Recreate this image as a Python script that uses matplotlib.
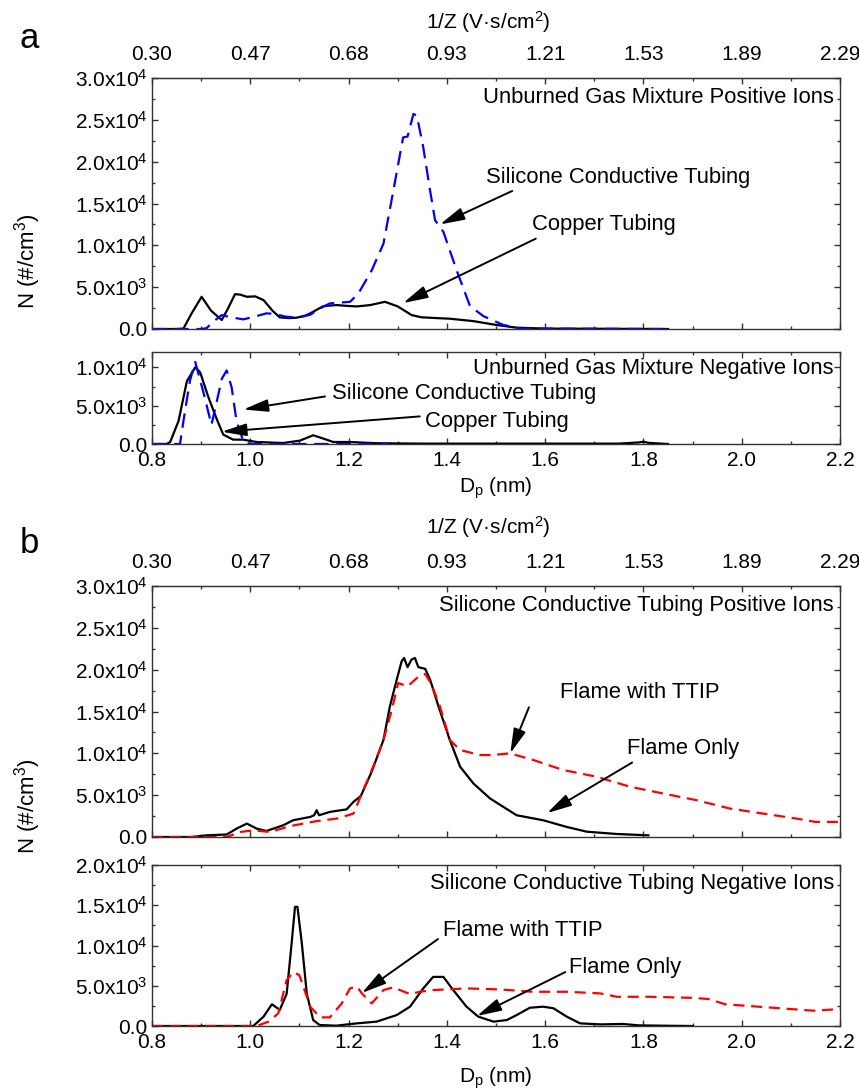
import numpy as np
import matplotlib
matplotlib.use('Agg')
import matplotlib.pyplot as plt
from matplotlib.ticker import MultipleLocator, FuncFormatter

plt.rcParams['font.family'] = ['Liberation Sans', 'DejaVu Sans']
plt.rcParams['mathtext.fontset'] = 'custom'
plt.rcParams['mathtext.rm'] = 'Liberation Sans'
plt.rcParams['mathtext.it'] = 'Liberation Sans:italic'
plt.rcParams['mathtext.bf'] = 'Liberation Sans:bold'
plt.rcParams['mathtext.default'] = 'regular'

# ---- data, N in units of 1e3 #/cm3 ----
# panel a, positive ions
a_pos_cu_d = [0.80, 0.85, 0.864, 0.88, 0.901, 0.92, 0.942, 0.955, 0.969, 0.98, 0.993, 1.010, 1.027,
              1.045, 1.06, 1.08, 1.094, 1.11, 1.122, 1.149, 1.176, 1.20, 1.217, 1.244, 1.274, 1.30,
              1.328, 1.348, 1.38, 1.406, 1.453, 1.501, 1.542, 1.60, 1.70, 1.85]
a_pos_cu_n = [0, 0, 0.05, 1.8, 3.85, 2.2, 1.07, 2.5, 4.17, 4.1, 3.85, 3.9, 3.45,
              2.2, 1.39, 1.3, 1.35, 1.55, 1.87, 2.74, 2.86, 2.75, 2.7, 2.86, 3.25, 2.7,
              1.67, 1.4, 1.3, 1.23, 0.95, 0.48, 0.16, 0.05, 0.03, 0.0]
a_pos_si_d = [0.80, 0.90, 0.911, 0.925, 0.942, 0.96, 0.986, 1.01, 1.033, 1.05, 1.07, 1.094, 1.122,
              1.14, 1.162, 1.203, 1.22, 1.247, 1.271, 1.291, 1.311, 1.32, 1.332, 1.339, 1.352,
              1.366, 1.376, 1.393, 1.42, 1.447, 1.474, 1.514, 1.55, 1.84]
a_pos_si_n = [0, 0, 0.1, 0.9, 1.67, 1.4, 1.15, 1.5, 1.87, 1.8, 1.5, 1.35, 1.7,
              2.4, 3.06, 3.25, 4.25, 7.0, 10.2, 16.5, 22.9, 23.0, 25.7, 25.5, 21.7,
              16.5, 13.0, 11.6, 7.0, 2.75, 1.55, 0.5, 0.05, 0]
# panel a, negative ions
a_neg_cu_d = [0.80, 0.83, 0.837, 0.854, 0.871, 0.888, 0.898, 0.915, 0.932, 0.945, 0.965, 0.985,
              1.013, 1.067, 1.101, 1.128, 1.149, 1.169, 1.203, 1.257, 1.35, 1.45, 1.55, 1.65,
              1.75, 1.79, 1.80, 1.81, 1.85]
a_neg_cu_n = [0, 0, 0.26, 3.0, 8.2, 10.0, 9.35, 6.06, 3.2, 1.23, 0.57, 0.57,
              0.26, 0.13, 0.44, 1.14, 0.7, 0.26, 0.26, 0.1, 0.05, 0.05, 0.05, 0.05,
              0.05, 0.2, 0.3, 0.15, 0.0]
a_neg_si_d = [0.80, 0.857, 0.864, 0.877, 0.888, 0.904, 0.921, 0.932, 0.942, 0.952, 0.962, 0.972,
              0.986, 1.0, 1.28]
a_neg_si_n = [0, 0, 3.0, 8.2, 10.7, 6.9, 2.5, 5.6, 8.5, 9.6, 7.4, 3.0, 0.35, 0, 0]
# panel b, positive ions
b_pos_fl_d = [0.80, 0.88, 0.911, 0.952, 0.972, 0.993, 1.013, 1.033, 1.067, 1.087, 1.122, 1.13,
              1.135, 1.14, 1.162, 1.196, 1.21, 1.225, 1.247, 1.271, 1.284, 1.298, 1.308, 1.313,
              1.32, 1.328, 1.335, 1.342, 1.356, 1.366, 1.383, 1.406, 1.427, 1.454, 1.488,
              1.542, 1.596, 1.644, 1.685, 1.746, 1.81]
b_pos_fl_n = [0, 0, 0.2, 0.3, 1.0, 1.6, 1.0, 0.72, 1.4, 2.0, 2.4, 2.6,
              3.2, 2.6, 3.0, 3.3, 4.2, 4.9, 7.8, 11.6, 15.6, 18.8, 21.0, 21.4,
              20.3, 21.2, 21.4, 20.3, 20.1, 18.8, 15.6, 11.6, 8.4, 6.4, 4.6,
              2.6, 2.0, 1.2, 0.63, 0.36, 0.2]
b_pos_tt_d = [0.80, 0.952, 0.98, 1.006, 1.04, 1.081, 1.135, 1.176, 1.21, 1.23, 1.25, 1.271, 1.288,
              1.301, 1.32, 1.339, 1.356, 1.369, 1.386, 1.406, 1.427, 1.467, 1.494, 1.528, 1.576,
              1.637, 1.705, 1.773, 1.84, 1.908, 1.976, 2.043, 2.112, 2.15, 2.2]
b_pos_tt_n = [0, 0, 0.6, 0.8, 0.6, 1.3, 1.9, 2.2, 2.8, 5.6, 8.4, 11.6, 15.2,
              18.4, 18.0, 19.0, 19.5, 18.2, 15.6, 11.6, 10.4, 9.8, 9.8, 10.0, 9.2,
              8.0, 7.2, 6.0, 5.2, 4.4, 3.4, 2.8, 2.2, 1.8, 1.8]
# panel b, negative ions
b_neg_fl_d = [0.80, 1.006, 1.027, 1.044, 1.06, 1.074, 1.084, 1.091, 1.096, 1.105, 1.115, 1.128,
              1.141, 1.175, 1.217, 1.257, 1.298, 1.325, 1.352, 1.372, 1.393, 1.413, 1.44, 1.464,
              1.495, 1.522, 1.542, 1.569, 1.596, 1.617, 1.644, 1.671, 1.712, 1.759, 1.79, 1.85, 1.9]
b_neg_fl_n = [0, 0, 1.16, 2.7, 2.0, 4.0, 10.2, 14.8, 14.8, 10.2, 4.0, 0.74,
              0.12, 0.04, 0.33, 0.54, 1.36, 2.4, 4.67, 6.1, 6.1, 4.46, 2.4, 1.16,
              0.54, 0.74, 1.36, 2.27, 2.4, 2.2, 1.16, 0.33, 0.2, 0.25, 0.08, 0.03, 0]
b_neg_tt_d = [0.80, 1.013, 1.037, 1.057, 1.074, 1.088, 1.10, 1.122, 1.142, 1.162, 1.186, 1.203,
              1.217, 1.227, 1.247, 1.271, 1.291, 1.325, 1.345, 1.372, 1.44, 1.508, 1.576, 1.644,
              1.712, 1.746, 1.813, 1.90, 1.933, 1.966, 2.056, 2.146, 2.2]
b_neg_tt_n = [0, 0, 0.54, 1.57, 5.7, 6.7, 6.3, 2.4, 1.07, 1.07, 2.8, 4.67,
              4.9, 4.05, 2.8, 4.46, 4.8, 3.96, 4.25, 4.46, 4.67, 4.54, 4.25, 4.25,
              4.05, 3.63, 3.63, 3.5, 3.35, 2.7, 2.3, 1.9, 2.1]

dp_ticks = [0.8, 1.0, 1.2, 1.4, 1.6, 1.8, 2.0, 2.2]
invz_labels = ['0.30', '0.47', '0.68', '0.93', '1.21', '1.53', '1.89', '2.29']
yticks_big = [0, 5e3, 1e4, 1.5e4, 2e4, 2.5e4, 3e4]
yticks_a_neg = [0, 5e3, 1e4]
yticks_b_neg = [0, 5e3, 1e4, 1.5e4, 2e4]

W, H = 859, 1090
fig = plt.figure(figsize=(W / 100, H / 100), dpi=100)

def box(top, bottom):
    return [152 / W, 1 - bottom / H, (840 - 152) / W, (bottom - top) / H]

def sci(v, pos=None):
    if v == 0:
        return '0.0'
    e = int(np.floor(np.log10(v) + 1e-9))
    return f'{v / 10**e:.1f}x10$^{{{e}}}$'

FS = 15
spine_c = '#333333'

def setup(ax, yticks, ymax, show_top, show_bottom):
    ax.set_xlim(0.8, 2.2)
    ax.set_ylim(0, ymax)
    ax.set_xticks(dp_ticks)
    ax.xaxis.set_minor_locator(MultipleLocator(0.1))
    ax.set_yticks(yticks)
    ax.yaxis.set_minor_locator(MultipleLocator(2500))
    ax.yaxis.set_major_formatter(FuncFormatter(sci))
    ax.xaxis.set_major_formatter(FuncFormatter(lambda v, p: f'{v:.1f}'))
    ax.tick_params(which='both', direction='in', top=not show_top, right=True,
                   color=spine_c, labelsize=FS)
    ax.tick_params(which='major', length=4.5, width=1)
    ax.tick_params(which='minor', length=2.5, width=1)
    ax.tick_params(axis='x', pad=5)
    ax.tick_params(axis='y', pad=3)
    if not show_bottom:
        ax.tick_params(labelbottom=False)
    for s in ax.spines.values():
        s.set_color(spine_c)
        s.set_linewidth(1.0)
    if show_top:
        sec = ax.secondary_xaxis('top')
        sec.set_xticks(dp_ticks)
        sec.set_xticklabels(invz_labels)
        sec.xaxis.set_minor_locator(MultipleLocator(0.1))
        sec.tick_params(which='both', direction='in', color=spine_c, labelsize=FS, pad=10)
        sec.tick_params(which='major', length=4.5, width=1)
        sec.tick_params(which='minor', length=2.5, width=1)
        sec.spines['top'].set_color(spine_c)

def curve(ax, d, n, kind):
    n = np.array(n) * 1e3
    if kind == 'solid':
        ax.plot(d, n, color='black', lw=1.6)
    elif kind == 'blue':
        ax.plot(d, n, color='#0000ff', lw=1.6, dashes=(6.5, 3.5))
    else:
        ax.plot(d, n, color='#ff0000', lw=1.6, dashes=(5, 3))

def arrow(ax, tip, tail):
    ax.annotate('', xy=tip, xytext=tail,
                arrowprops=dict(arrowstyle='-|>,head_length=1.5,head_width=0.38',
                                color='black', lw=1.4, shrinkA=0, shrinkB=0))

AFS = 15.8

# ---- panel a ----
ax1 = fig.add_axes(box(78, 329))
setup(ax1, yticks_big, 3e4, True, False)
curve(ax1, a_pos_cu_d, a_pos_cu_n, 'solid')
curve(ax1, a_pos_si_d, a_pos_si_n, 'blue')
ax1.text(0.991, 0.924, 'Unburned Gas Mixture Positive Ions', transform=ax1.transAxes,
         ha='right', va='center', fontsize=AFS)
ax1.text(1.48, 18.1e3, 'Silicone Conductive Tubing', ha='left', va='center', fontsize=AFS)
arrow(ax1, (1.386, 12.5e3), (1.533, 16.5e3))
ax1.text(1.573, 12.5e3, 'Copper Tubing', ha='left', va='center', fontsize=AFS)
arrow(ax1, (1.311, 3.1e3), (1.581, 10.8e3))

ax2 = fig.add_axes(box(352, 444))
setup(ax2, yticks_a_neg, 1.2e4, False, True)
curve(ax2, a_neg_cu_d, a_neg_cu_n, 'solid')
curve(ax2, a_neg_si_d, a_neg_si_n, 'blue')
ax2.text(0.991, 0.826, 'Unburned Gas Mixture Negative Ions', transform=ax2.transAxes,
         ha='right', va='center', fontsize=AFS)
ax2.text(1.166, 6.6e3, 'Silicone Conductive Tubing', ha='left', va='center', fontsize=AFS)
arrow(ax2, (0.986, 4.5e3), (1.152, 6.2e3))
ax2.text(1.356, 2.9e3, 'Copper Tubing', ha='left', va='center', fontsize=AFS)
arrow(ax2, (0.942, 1.6e3), (1.345, 3.6e3))

# ---- panel b ----
ax3 = fig.add_axes(box(586, 837))
setup(ax3, yticks_big, 3e4, True, False)
curve(ax3, b_pos_fl_d, b_pos_fl_n, 'solid')
curve(ax3, b_pos_tt_d, b_pos_tt_n, 'red')
ax3.text(0.991, 0.924, 'Silicone Conductive Tubing Positive Ions', transform=ax3.transAxes,
         ha='right', va='center', fontsize=AFS)
ax3.text(1.630, 17.3e3, 'Flame with TTIP', ha='left', va='center', fontsize=AFS)
arrow(ax3, (1.529, 10.0e3), (1.567, 15.5e3))
ax3.text(1.767, 10.6e3, 'Flame Only', ha='left', va='center', fontsize=AFS)
arrow(ax3, (1.604, 2.86e3), (1.777, 8.9e3))

ax4 = fig.add_axes(box(865, 1026))
setup(ax4, yticks_b_neg, 2e4, False, True)
curve(ax4, b_neg_fl_d, b_neg_fl_n, 'solid')
curve(ax4, b_neg_tt_d, b_neg_tt_n, 'red')
ax4.text(0.991, 0.888, 'Silicone Conductive Tubing Negative Ions', transform=ax4.transAxes,
         ha='right', va='center', fontsize=AFS)
ax4.text(1.392, 11.9e3, 'Flame with TTIP', ha='left', va='center', fontsize=AFS)
arrow(ax4, (1.227, 4.1e3), (1.382, 10.8e3))
ax4.text(1.649, 7.3e3, 'Flame Only', ha='left', va='center', fontsize=AFS)
arrow(ax4, (1.461, 1.24e3), (1.641, 6.7e3))

# ---- figure-level labels ----
cx = 0.5 * (152 + 840) / W
for ytop, yx, yn, letter, ylet in [(22, 488, 261, 'a', 38), (527, 1078, 806, 'b', 543)]:
    fig.text(cx - 8 / W, 1 - ytop / H, '1/Z (V·s/cm$^2$)', ha='center', va='center', fontsize=FS)
    fig.text(cx, 1 - yx / H, 'D$_p$ (nm)', ha='center', va='center', fontsize=FS)
    fig.text(28 / W, 1 - yn / H, 'N (#/cm$^3$)', ha='center', va='center',
             rotation=90, fontsize=16)
    fig.text(29 / W, 1 - ylet / H, letter, ha='center', va='center', fontsize=25)

fig.savefig('out.png', dpi=100)
